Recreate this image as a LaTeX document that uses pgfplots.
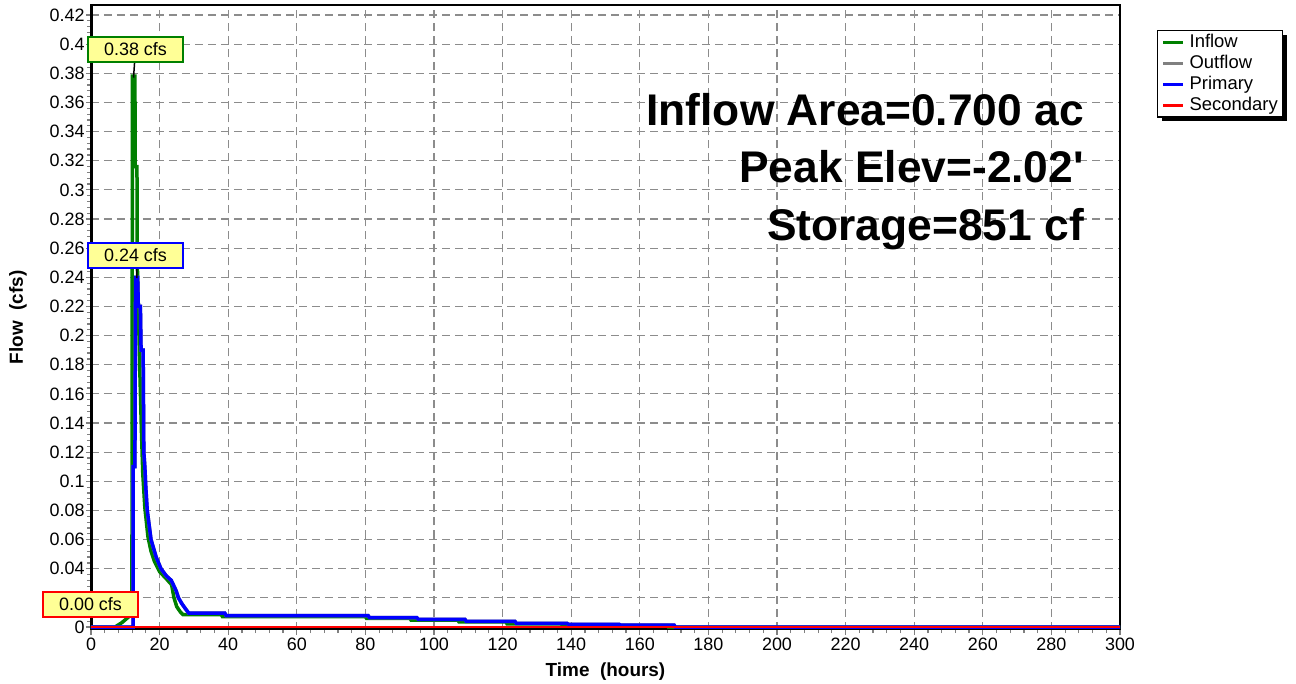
\documentclass[border=0pt]{standalone}
\usepackage{fontspec}
\setmainfont{Liberation Sans}
\usepackage{pgfplots}
\pgfplotsset{compat=1.18}
\usetikzlibrary{shadows}
\definecolor{hgreen}{RGB}{0,128,0}
\definecolor{hgray}{RGB}{128,128,128}
\definecolor{gridgray}{RGB}{140,140,140}
\definecolor{hyellow}{RGB}{255,255,150}
\begin{document}
\begin{tikzpicture}
\useasboundingbox (-91bp,-54.5bp) rectangle (1205bp,629.5bp);
\begin{axis}[
  at={(0,0)}, anchor=south west, scale only axis,
  width=1029bp, height=624.5bp,
  xmin=0, xmax=300, ymin=-0.0017, ymax=0.4269,
  xtick={0,20,...,300},
  ytick={0,0.02,0.04,0.06,0.08,0.1,0.12,0.14,0.16,0.18,0.2,0.22,0.24,0.26,0.28,0.3,0.32,0.34,0.36,0.38,0.4,0.42},
  yticklabels={0,0.02,0.04,0.06,0.08,0.1,0.12,0.14,0.16,0.18,0.2,0.22,0.24,0.26,0.28,0.3,0.32,0.34,0.36,0.38,0.4,0.42},
  minor x tick num=4, minor y tick num=4,
  xtick pos=bottom, ytick pos=left,
  tick align=outside,
  major tick length=5bp, minor tick length=3.5bp,
  tick style={hgray, line width=1.2bp},
  grid=major,
  major grid style={gridgray, line width=1.2bp, dash pattern=on 8bp off 5bp},
  axis line style={line width=1.5bp},
  scaled y ticks=false,
  /pgf/number format/assume math mode=true,
  tick label style={font=\fontsize{18}{20}\selectfont},
  yticklabel style={xshift=2bp},
  xlabel={Time\ \ (hours)}, ylabel={Flow\ \ (cfs)},
  label style={font=\fontsize{19}{22}\selectfont\bfseries},
  xlabel style={at={(axis description cs:0.5,-0.0681)}, anchor=center},
  ylabel style={at={(axis description cs:-0.0709,0.5)}, anchor=center},
  legend style={at={(axis description cs:1.036,0.96)}, anchor=north west,
    draw=black, line width=1.2bp, fill=white,
    font=\fontsize{18.5}{20}\selectfont,
    inner xsep=4bp, inner ysep=2bp, row sep=1.5bp,
    cells={anchor=west},
    nodes={inner sep=1bp, text height=13.5bp, text depth=4bp},
    /tikz/every odd column/.append style={column sep=4bp},
    drop shadow={shadow xshift=4bp, shadow yshift=-4bp, fill=black, opacity=1}},
  legend image code/.code={\begin{scope}[#1, line width=3bp]\pgfpathmoveto{\pgfpoint{0bp}{0bp}}\pgfpathlineto{\pgfpoint{20bp}{0bp}}\pgfusepath{stroke}\end{scope}},
]
\draw[line width=4bp] (rel axis cs:0,1) -- (rel axis cs:0,0) -- (rel axis cs:1,0);
\draw[line width=2.5bp] (rel axis cs:1,0) -- (rel axis cs:1,1);

\addplot[hgreen, line width=3.5bp] coordinates {
(0,0) (7,0) (8,0.0015) (9,0.003) (10,0.005) (11,0.007) (11.9,0.0095) (12.0,0.11)
(12.05,0.378) (12.8,0.378) (12.9,0.316) (13.4,0.316) (13.5,0.25) (13.9,0.21)
(14.3,0.17) (14.7,0.135) (15.1,0.105) (15.7,0.082) (16.6,0.062) (17.5,0.052)
(18.5,0.045) (20,0.038) (22,0.033) (23.5,0.029) (24.2,0.02) (25,0.014) (26,0.0105)
(26.8,0.0085) (38,0.0085) (38.3,0.0072) (80,0.0072) (80.3,0.006) (93,0.006)
(93.3,0.0048) (107,0.0048) (107.3,0.0035) (121,0.0035) (121.3,0.0022) (137,0.0022)
(137.3,0.0015) (152,0.0015) (152.3,0.001) (168,0.001) (168.3,0) (300,0)};
\addlegendentry{Inflow}

\addplot[hgray, line width=3.5bp] coordinates {
(0,0) (12.3,0) (12.3,0.11) (12.8,0.11) (13.0,0.24) (13.6,0.24) (13.8,0.22) (14.4,0.22)
(14.6,0.19) (15.2,0.19) (15.4,0.12) (15.7,0.11) (16.0,0.095) (16.4,0.08) (17.5,0.06)
(19,0.048) (20.4,0.04) (22,0.035) (23.4,0.032) (24.8,0.025) (25.5,0.02) (26.5,0.016)
(27.4,0.013) (28.5,0.0095) (39,0.0095) (39.4,0.0078) (80.8,0.0078) (81.2,0.0064)
(95,0.0064) (95.4,0.0053) (109,0.0053) (109.4,0.0039) (123.6,0.0039) (124,0.0025)
(138.8,0.0025) (139.2,0.0018) (154,0.0018) (154.4,0.0013) (170,0.0013) (170.3,0) (300,0)};
\addlegendentry{Outflow}

\addplot[blue, line width=3.5bp] coordinates {
(0,0) (12.3,0) (12.3,0.11) (12.8,0.11) (13.0,0.24) (13.6,0.24) (13.8,0.22) (14.4,0.22)
(14.6,0.19) (15.2,0.19) (15.4,0.12) (15.7,0.11) (16.0,0.095) (16.4,0.08) (17.5,0.06)
(19,0.048) (20.4,0.04) (22,0.035) (23.4,0.032) (24.8,0.025) (25.5,0.02) (26.5,0.016)
(27.4,0.013) (28.5,0.0095) (39,0.0095) (39.4,0.0078) (80.8,0.0078) (81.2,0.0064)
(95,0.0064) (95.4,0.0053) (109,0.0053) (109.4,0.0039) (123.6,0.0039) (124,0.0025)
(138.8,0.0025) (139.2,0.0018) (154,0.0018) (154.4,0.0013) (170,0.0013) (170.3,0) (300,0)};
\addlegendentry{Primary}

\addplot[red, line width=1.5bp] coordinates {(0,0) (300,0)};
\addlegendentry{Secondary}

\node[anchor=base east, font=\fontsize{44.5}{50}\selectfont\bfseries] at (axis cs:290.5,0.3445) {Inflow Area=0.700 ac};
\node[anchor=base east, font=\fontsize{44.5}{50}\selectfont\bfseries] at (axis cs:290.5,0.3048) {Peak Elev=-2.02\textquotesingle};
\node[anchor=base east, font=\fontsize{44.5}{50}\selectfont\bfseries] at (axis cs:290.5,0.2653) {Storage=851 cf};

\coordinate (p1) at (axis cs:12.4,0.377);
\coordinate (b1) at (axis cs:12.97,0.3964);
\coordinate (p2) at (axis cs:13.4,0.2395);
\coordinate (b2) at (axis cs:12.97,0.255);
\coordinate (b3) at (axis cs:-0.15,0.0154);
\end{axis}
\draw[line width=1.5bp] (b1) -- (p1);
\draw[line width=1.5bp] ([xshift=1.5bp]b2) -- (p2);
\tikzset{lbl/.style={fill=hyellow, line width=2bp, minimum width=95bp, minimum height=25bp, inner sep=0pt, font=\fontsize{18}{20}\selectfont}}
\node[lbl, draw=hgreen] at (b1) {0.38 cfs};
\node[lbl, draw=blue] at (b2) {0.24 cfs};
\node[lbl, draw=red] at (b3) {0.00 cfs};
\end{tikzpicture}
\end{document}
